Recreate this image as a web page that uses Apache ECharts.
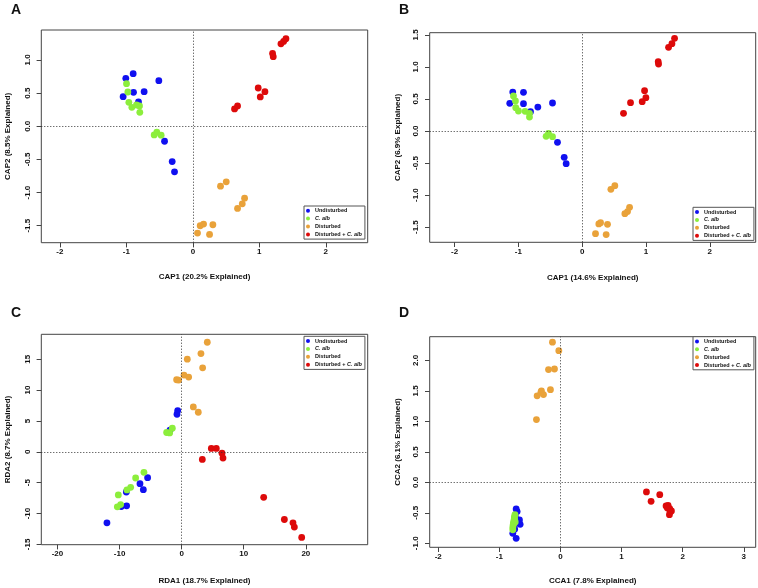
<!DOCTYPE html>
<html><head><meta charset="utf-8">
<script src="https://cdn.jsdelivr.net/npm/echarts@6/dist/echarts.min.js"></script>
<style>html,body{margin:0;padding:0;background:#fff}#c{width:758px;height:588px}</style>
</head><body><div id="c"></div>
<script>
// ---- Data ----
const groupNames = ['Undisturbed', 'C. alb', 'Disturbed', 'Disturbed + C. alb'];
const groupColors = ['#1010F0', '#8CEE3C', '#E9A23A', '#DD0A0A'];

// Panel A (CAP)
const A_undisturbed = [[-1.009,0.723],[-0.898,0.793],[-0.512,0.687],[-1.049,0.447],[-0.893,0.512],[-0.733,0.522],[-0.818,0.366],[-0.426,-0.226],[-0.311,-0.532],[-0.276,-0.687]];
const A_calb = [[-0.998,0.642],[-0.978,0.517],[-0.963,0.361],[-0.918,0.286],[-0.848,0.321],[-0.803,0.306],[-0.798,0.211],[-0.582,-0.130],[-0.542,-0.090],[-0.477,-0.135]];
const A_disturbed = [[0.070,-1.611],[0.110,-1.500],[0.161,-1.475],[0.251,-1.631],[0.301,-1.485],[0.416,-0.903],[0.502,-0.838],[0.672,-1.239],[0.743,-1.169],[0.778,-1.084]];
const A_distcalb = [[0.627,0.261],[0.672,0.306],[0.983,0.577],[1.014,0.442],[1.084,0.522],[1.199,1.099],[1.209,1.049],[1.325,1.244],[1.365,1.279],[1.400,1.320]];

// Panel B (CAP)
const B_undisturbed = [[-1.088,0.608],[-0.920,0.603],[-1.135,0.432],[-0.920,0.426],[-0.810,0.302],[-0.695,0.374],[-0.465,0.437],[-0.387,-0.177],[-0.282,-0.411],[-0.251,-0.510]];
const B_calb = [[-1.077,0.546],[-1.046,0.468],[-1.041,0.364],[-0.999,0.312],[-0.894,0.307],[-0.826,0.276],[-0.826,0.218],[-0.565,-0.083],[-0.528,-0.036],[-0.465,-0.088]];
const B_disturbed = [[0.209,-1.602],[0.261,-1.451],[0.288,-1.430],[0.376,-1.617],[0.397,-1.456],[0.450,-0.910],[0.512,-0.853],[0.669,-1.290],[0.711,-1.258],[0.743,-1.191]];
const B_distcalb = [[0.648,0.276],[0.758,0.442],[0.941,0.458],[0.978,0.629],[0.999,0.520],[1.192,1.082],[1.197,1.045],[1.354,1.305],[1.407,1.362],[1.448,1.446]];

// Panel C (RDA)
const C_undisturbed = [[-0.64,6.67],[-0.75,6.08],[-1.88,3.49],[-5.48,-4.19],[-6.71,-5.16],[-6.17,-6.13],[-8.91,-6.51],[-8.86,-8.76],[-9.72,-8.87],[-12.03,-11.51]];
const C_calb = [[-6.07,-3.33],[-7.41,-4.25],[-8.21,-5.75],[-8.81,-6.18],[-10.20,-6.99],[-9.83,-8.55],[-10.36,-8.92],[-2.42,3.12],[-1.93,3.06],[-1.50,3.82]];
const C_disturbed = [[4.13,17.74],[3.11,15.91],[0.91,15.00],[3.38,13.60],[0.38,12.42],[1.13,12.10],[-0.81,11.67],[-0.48,11.61],[1.88,7.26],[2.68,6.40]];
const C_distcalb = [[4.78,0.54],[5.58,0.54],[3.33,-1.24],[6.50,-0.22],[6.66,-1.02],[13.21,-7.37],[16.54,-10.97],[17.93,-11.51],[18.15,-12.20],[19.33,-13.87]];

// Panel D (CCA)
const D_undisturbed = [[-0.725,-0.437],[-0.709,-0.480],[-0.671,-0.617],[-0.660,-0.689],[-0.780,-0.836],[-0.725,-0.918],[-0.750,-0.770],[-0.740,-0.560],[-0.700,-0.650],[-0.760,-0.720]];
const D_calb = [[-0.745,-0.530],[-0.755,-0.570],[-0.760,-0.620],[-0.770,-0.660],[-0.775,-0.700],[-0.780,-0.740],[-0.780,-0.780],[-0.750,-0.600],[-0.765,-0.680],[-0.740,-0.650]];
const D_disturbed = [[-0.131,2.30],[-0.027,2.16],[-0.196,1.85],[-0.098,1.86],[-0.311,1.50],[-0.164,1.52],[-0.278,1.44],[-0.382,1.42],[-0.393,1.03],[-0.320,1.48]];
const D_distcalb = [[1.407,-0.158],[1.625,-0.202],[1.483,-0.311],[1.728,-0.388],[1.761,-0.377],[1.788,-0.432],[1.816,-0.470],[1.783,-0.530],[1.750,-0.421],[1.794,-0.486]];

// Tick labels
const xTicksAB = [-2, -1, 0, 1, 2];
const yTicksA = [-1.5, -1.0, -0.5, 0.0, 0.5, 1.0];
const yTicksB = [-1.5, -1.0, -0.5, 0.0, 0.5, 1.0, 1.5];
const xTicksC = [-20, -10, 0, 10, 20];
const yTicksC = [-15, -10, -5, 0, 5, 10, 15];
const xTicksD = [-2, -1, 0, 1, 2, 3];
const yTicksD = [-1.0, -0.5, 0.0, 0.5, 1.0, 1.5, 2.0];

const panelLetters = ['A', 'B', 'C', 'D'];
const xNames = ['CAP1 (20.2% Explained)', 'CAP1 (14.6% Explained)', 'RDA1 (18.7% Explained)', 'CCA1 (7.8% Explained)'];
const yNames = ['CAP2 (8.5% Explained)', 'CAP2 (6.9% Explained)', 'RDA2 (8.7% Explained)', 'CCA2 (6.1% Explained)'];

// ---- Layout ----
const FONT = 'Liberation Sans, Arial, Helvetica, sans-serif';
const grids = [
  {left: 41.3, top: 30, width: 326.4, height: 212.7},
  {left: 429.7, top: 32.7, width: 326, height: 209.6},
  {left: 41.3, top: 334.3, width: 326.4, height: 210.4},
  {left: 429.7, top: 336.7, width: 326, height: 210.6}
];
const xRanges = [[-2.28, 2.63], [-2.39, 2.72], [-22.6, 29.96], [-2.14, 3.195]];
const yRanges = [[-1.756, 1.452], [-1.737, 1.534], [-15.05, 19.03], [-1.066, 2.39]];
const xTicks = [xTicksAB, xTicksAB, xTicksC, xTicksD];
const yTicks = [yTicksA, yTicksB, yTicksC, yTicksD];
const yDecimals = [1, 1, 0, 1];
const xNameGaps = [30, 31, 32, 29.5];
const yNameGaps = [29.5, 28, 29.5, 28];
const letterPos = [[11, 3], [399, 3], [11, 306], [399, 306]];
const legendPos = [[304, 206], [693, 207.3], [304, 336.3], [693, 336.7]];
const panelData = [
  [A_undisturbed, A_calb, A_disturbed, A_distcalb],
  [B_undisturbed, B_calb, B_disturbed, B_distcalb],
  [C_undisturbed, C_calb, C_disturbed, C_distcalb],
  [D_undisturbed, D_calb, D_disturbed, D_distcalb]
];

const axisColor = '#444';
const xAxes = [], yAxes = [], series = [], legends = [], titles = [];
for (let i = 0; i < 4; i++) {
  xAxes.push({
    type: 'value', gridIndex: i, min: xRanges[i][0], max: xRanges[i][1],
    name: xNames[i], nameLocation: 'middle', nameGap: xNameGaps[i],
    nameTextStyle: {fontFamily: FONT, fontSize: 8, fontWeight: 'bold', color: '#111'},
    axisLine: {show: false, onZero: false},
    axisTick: {show: true, inside: false, length: 4.7, customValues: xTicks[i], lineStyle: {color: axisColor, width: 1}},
    axisLabel: {customValues: xTicks[i], margin: 5, fontFamily: FONT, fontSize: 8, fontWeight: 'bold', color: '#111',
      formatter: v => String(v)},
    splitLine: {show: false}
  });
  const dec = yDecimals[i];
  yAxes.push({
    type: 'value', gridIndex: i, min: yRanges[i][0], max: yRanges[i][1],
    name: yNames[i], nameLocation: 'middle', nameGap: yNameGaps[i],
    nameTextStyle: {fontFamily: FONT, fontSize: 8, fontWeight: 'bold', color: '#111'},
    axisLine: {show: false, onZero: false},
    axisTick: {show: true, inside: false, length: 4.7, customValues: yTicks[i], lineStyle: {color: axisColor, width: 1}},
    axisLabel: {customValues: yTicks[i], rotate: 90, margin: 10, fontFamily: FONT, fontSize: 8, fontWeight: 'bold', color: '#111',
      formatter: v => Number(v).toFixed(dec)},
    splitLine: {show: false}
  });
  for (let g = 0; g < 4; g++) {
    const s = {
      type: 'scatter', name: groupNames[g], xAxisIndex: i, yAxisIndex: i,
      data: panelData[i][g], symbol: 'circle', symbolSize: 6.8,
      itemStyle: {color: groupColors[g], opacity: 1}, animation: false
    };
    if (g === 0) {
      s.markLine = {
        silent: true, symbol: ['none', 'none'], label: {show: false}, animation: false,
        lineStyle: {type: [1, 2], color: '#333', width: 1},
        data: [{xAxis: 0}, {yAxis: 0}]
      };
    }
    series.push(s);
  }
  legends.push({
    orient: 'vertical', left: legendPos[i][0], top: legendPos[i][1],
    data: groupNames.slice(), icon: 'circle', itemWidth: 4, itemHeight: 4, itemGap: 1.9,
    padding: [1.7, 3, 1.7, 2], selectedMode: false,
    backgroundColor: '#fff', borderColor: '#555', borderWidth: 1,
    formatter: n => n.replace('C. alb', '{i|C. alb}'),
    textStyle: {fontFamily: FONT, fontSize: 5.5, fontWeight: 'bold', color: '#111', lineHeight: 6,
      rich: {i: {fontFamily: FONT, fontSize: 5.5, fontWeight: 'bold', fontStyle: 'italic', color: '#111', lineHeight: 6}}}
  });
  titles.push({
    text: panelLetters[i], left: letterPos[i][0], top: letterPos[i][1], padding: 0,
    textStyle: {fontFamily: FONT, fontSize: 14, fontWeight: 'bold', color: '#111'}
  });
}

const chart = echarts.init(document.getElementById('c'), null, {renderer: 'canvas'});
chart.setOption({
  animation: false,
  backgroundColor: '#fff',
  title: titles,
  grid: grids.map(g => Object.assign({show: true, borderColor: axisColor, borderWidth: 1, backgroundColor: 'transparent', containLabel: false}, g)),
  xAxis: xAxes,
  yAxis: yAxes,
  legend: legends,
  series: series
});
</script>
</body></html>
